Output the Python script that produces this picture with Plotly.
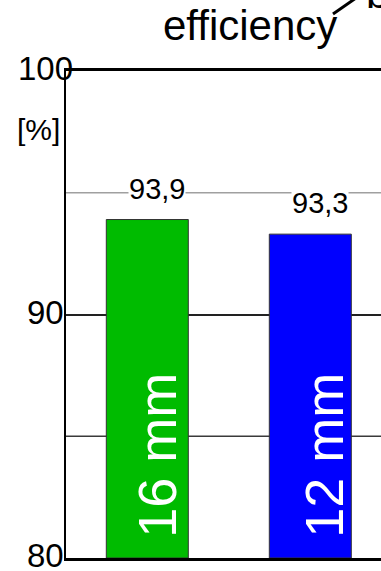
import plotly.graph_objects as go

# Data
categories = ["16 mm", "12 mm"]
efficiency = [93.9, 93.3]
value_labels = ["93,9", "93,3"]
bar_colors = ["rgb(0,187,0)", "rgb(0,0,255)"]
y_ticks = [80, 90, 100]
y_tick_labels = ["80", "90", "100"]
minor_grid = [85, 95]

FONT = "Liberation Sans, Arial, Helvetica, sans-serif"

W, H = 381, 571
L, R, T, B = 66, 0, 71, 13
PW, PH = W - L - R, H - T - B


def px(x):
    return (x - L) / PW


def py(y):
    return (H - B - y) / PH


fig = go.Figure()
fig.add_trace(go.Bar(
    x=categories,
    y=[v - 80 for v in efficiency],
    base=80,
    width=0.503,
    marker=dict(color=bar_colors, line=dict(color="#333333", width=1)),
    hoverinfo="skip",
))

annotations = []

# value labels above each bar, with a white box over the grid
for cat, val, lab in zip(categories, efficiency, value_labels):
    annotations.append(dict(
        x=cat, y=val, xref="x", yref="y", text=lab, showarrow=False,
        xanchor="center", yanchor="middle", xshift=10, yshift=31,
        font=dict(family=FONT, size=29, color="black"),
        bgcolor="white", borderpad=0,
    ))

# rotated category names inside the bars
name_shift = [9, 13]
for cat, dx in zip(categories, name_shift):
    annotations.append(dict(
        x=cat, y=80, xref="x", yref="y", text=cat, showarrow=False,
        textangle=-90, xanchor="center", yanchor="bottom",
        xshift=dx, yshift=18,
        font=dict(family=FONT, size=54, color="white"),
    ))

# y tick labels
for v, t in zip(y_ticks, y_tick_labels):
    annotations.append(dict(
        x=px(45), y=v, xref="paper", yref="y", text=t, showarrow=False,
        xanchor="center", yanchor="middle", height=28, borderpad=0,
        yshift=3,
        font=dict(family=FONT, size=33, color="black"),
    ))

# unit
annotations.append(dict(
    x=px(38), y=py(129), xref="paper", yref="paper", text="[%]",
    showarrow=False, xanchor="center", yanchor="middle",
    font=dict(family=FONT, size=30, color="black"),
))

# heading
annotations.append(dict(
    x=px(250), y=py(25.4), xref="paper", yref="paper", text="efficiency",
    showarrow=False, xanchor="center", yanchor="middle",
    font=dict(family=FONT, size=42, color="black"),
))
annotations.append(dict(
    x=px(364), y=py(19), xref="paper", yref="paper", text="b",
    showarrow=False, xanchor="left", yanchor="bottom",
    font=dict(family=FONT, size=42, color="black"),
))

shapes = [dict(
    type="line", xref="paper", yref="paper",
    x0=px(333), y0=py(14), x1=px(356), y1=py(-2),
    line=dict(color="black", width=3),
)]

# intermediate grid lines at 85 and 95
for v, col in zip(minor_grid, ["#3a3a3a", "#a0a0a0"]):
    shapes.append(dict(
        type="line", xref="paper", yref="y", x0=0, x1=1, y0=v, y1=v,
        layer="below", line=dict(color=col, width=1.5),
    ))

fig.update_layout(
    width=W, height=H,
    margin=dict(l=L, r=R, t=T, b=B, pad=0),
    paper_bgcolor="white", plot_bgcolor="white",
    showlegend=False,
    annotations=annotations,
    shapes=shapes,
    xaxis=dict(
        range=[-0.4988, 1.4337], showgrid=False, zeroline=False,
        showticklabels=False, ticks="",
        showline=True, mirror=True, linecolor="black", linewidth=2.5,
    ),
    yaxis=dict(
        range=[80, 100], tickvals=y_ticks, showticklabels=False, ticks="",
        showgrid=True, gridcolor="#222222", gridwidth=1.5, zeroline=False,
        showline=True, linecolor="black", linewidth=2,
    ),
)

fig.write_html("out.html")
